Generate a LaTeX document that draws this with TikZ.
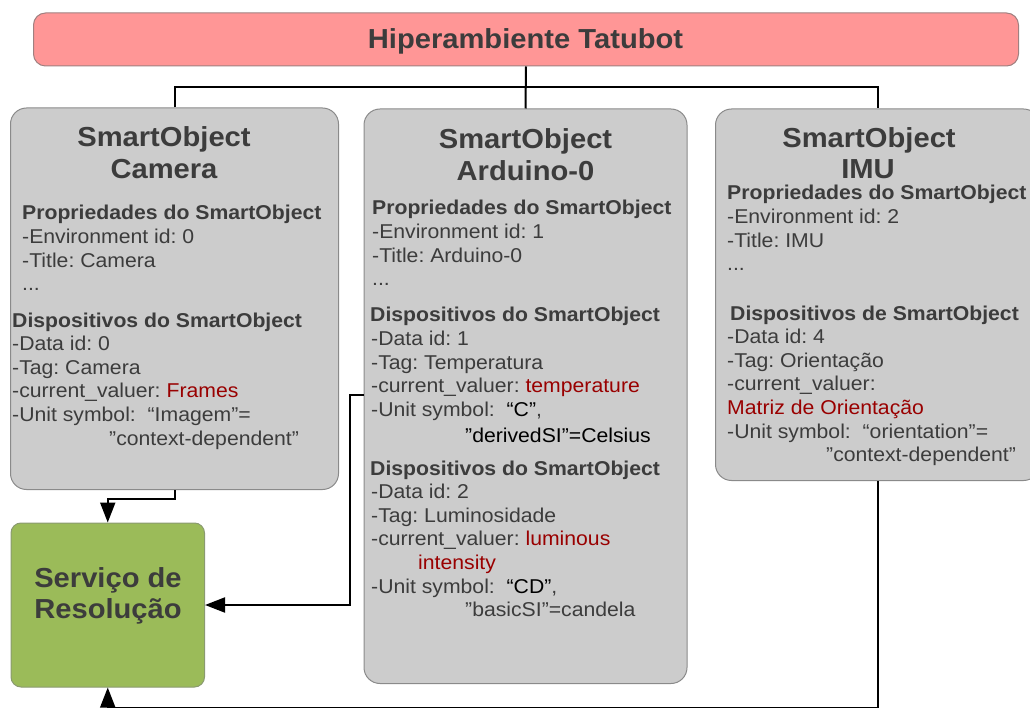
\documentclass[tikz,border=0pt]{standalone}
\usepackage{fontspec}
\setmainfont{Liberation Sans}[FakeStretch=1.06]
\usetikzlibrary{arrows.meta}
\frenchspacing

\definecolor{ink}{HTML}{3C3C3C}
\definecolor{warm}{HTML}{990000}
\definecolor{cardfill}{HTML}{CCCCCC}
\definecolor{cardline}{HTML}{8A8A8A}
\definecolor{topfill}{HTML}{FF9696}
\definecolor{topline}{HTML}{A08080}
\definecolor{svcfill}{HTML}{9BBB59}
\definecolor{svcline}{HTML}{8A9A70}

\newcommand\bodysize{\fontsize{20}{23.6}\selectfont}
\newcommand\titlesize{\fontsize{27.5}{31}\selectfont\bfseries}
\newcommand\etc{.\kern0pt.\kern0pt.}

\tikzset{
  card/.style={draw=cardline, fill=cardfill, line width=1pt,
    rounded corners=16pt, inner sep=0pt, anchor=north west},
  txt/.style={anchor=base west, inner sep=0pt, text=ink, font=\bodysize},
  head/.style={txt, font=\bodysize\bfseries},
  ttl/.style={anchor=base, inner sep=0pt, text=ink, font=\titlesize},
  link/.style={draw=black, line width=2pt},
  feed/.style={link, -{Triangle[length=20pt,width=15pt]}},
}

\begin{document}
\begin{tikzpicture}[x=1pt,y=-1pt]
\useasboundingbox (0,0) rectangle (1030,708);

% ---- boxes
\node[card, fill=topfill, draw=topline, rounded corners=12pt,
      minimum width=985, minimum height=53] (top) at (33,12.5) {};
\node[card, minimum width=328, minimum height=381.5] (cam) at (10,107.5) {};
\node[card, minimum width=323, minimum height=574.5] (ard) at (363.5,108.5) {};
\node[card, minimum width=324, minimum height=371.5] (imu) at (715,108.5) {};
\node[card, fill=svcfill, draw=svcline, rounded corners=10pt,
      minimum width=193.5, minimum height=164] (svc) at (10.5,522.5) {};

% ---- tree connectors
\coordinate (hub) at (525.5,87.5);
\draw[link] (top.south) -- (ard.north);
\draw[link] (cam.north) |- (hub) -| (imu.north);

% ---- feeds into the resolution service
\coordinate (ardtap) at (363.5,395);
\draw[feed] (cam.south) -- ++(0,9) -| (svc.north);
\draw[feed] (ardtap) -- ++(-14,0) |- (svc.east);
\draw[feed] (imu.south) -- ++(0,227) -| (svc.south);

% ---- titles
\node[ttl] (toptitle) at (525.5,48.5) {Hiperambiente Tatubot};
\node[ttl] (camt1) at (164,147) {SmartObject};
\node[ttl] (camt2) at (164,179) {Camera};
\node[ttl] (ardt1) at (525.5,149) {SmartObject};
\node[ttl] (ardt2) at (525.5,181) {Arduino-0};
\node[ttl] (imut1) at (869,148) {SmartObject};
\node[ttl] (imut2) at (868,179) {IMU};
\node[ttl] (svct1) at (108,587) {Serviço de};
\node[ttl] (svct2) at (108,618.5) {Resolução};

% ---- Camera
\node[head] (camph) at (22,220)   {Propriedades do SmartObject};
\node[txt]  (camp1) at (22,243.6) {-Environment id: 0};
\node[txt]  (camp2) at (22,267.2) {-Title: Camera};
\node[txt]  (camp3) at (22,290.8) {\etc};
\node[head] (camdh) at (12,327)   {Dispositivos do SmartObject};
\node[txt]  (camd1) at (12,350.6) {-Data id: 0};
\node[txt]  (camd2) at (12,374.2) {-Tag: Camera};
\node[txt]  (camd3) at (12,397.8) {-current\_valuer: \textcolor{warm}{Frames}};
\node[txt]  (camd4) at (12,421.4) {-Unit symbol:\ \ “Imagem”=};
\node[txt]  (camd5) at (109,445)  {”context-dependent”};

% ---- Arduino-0
\node[head] (ardph) at (372,215)   {Propriedades do SmartObject};
\node[txt]  (ardp1) at (372,238.6) {-Environment id: 1};
\node[txt]  (ardp2) at (372,262.2) {-Title: Arduino-0};
\node[txt]  (ardp3) at (372,285.8) {\etc};
\node[head] (ardah) at (370,322)   {Dispositivos do SmartObject};
\node[txt]  (arda1) at (371,345.6) {-Data id: 1};
\node[txt]  (arda2) at (371,369.2) {-Tag: Temperatura};
\node[txt]  (arda3) at (371,392.8) {-current\_valuer: \textcolor{warm}{temperature}};
\node[txt]  (arda4) at (371,416.4) {-Unit symbol:\ \ \textcolor{black}{“C”},};
\node[txt, text=black] (arda5) at (465,442.5) {”derivedSI”=Celsius};
\node[head] (ardbh) at (370,475)   {Dispositivos do SmartObject};
\node[txt]  (ardb1) at (371,498.6) {-Data id: 2};
\node[txt]  (ardb2) at (371,522.2) {-Tag: Luminosidade};
\node[txt]  (ardb3) at (371,545.8) {-current\_valuer: \textcolor{warm}{luminous}};
\node[txt, text=warm] (ardb4) at (418,569.4) {intensity};
\node[txt]  (ardb5) at (371,593)   {-Unit symbol:\ \ \textcolor{black}{“CD”},};
\node[txt]  (ardb6) at (465,616.6) {”basicSI”=candela};

% ---- IMU
\node[head] (imuph) at (727,200)   {Propriedades do SmartObject};
\node[txt]  (imup1) at (727,223.6) {-Environment id: 2};
\node[txt]  (imup2) at (727,247.2) {-Title: IMU};
\node[txt]  (imup3) at (727,270.8) {\etc};
\node[head] (imudh) at (730,320)   {Dispositivos de SmartObject};
\node[txt]  (imud1) at (727,343.6) {-Data id: 4};
\node[txt]  (imud2) at (727,367.2) {-Tag: Orientação};
\node[txt]  (imud3) at (727,390.8) {-current\_valuer:};
\node[txt, text=warm] (imud4) at (727,414.4) {Matriz de Orientação};
\node[txt]  (imud5) at (727,438)   {-Unit symbol:\ \ “orientation”=};
\node[txt]  (imud6) at (826,461.6) {”context-dependent”};
\end{tikzpicture}
\end{document}
